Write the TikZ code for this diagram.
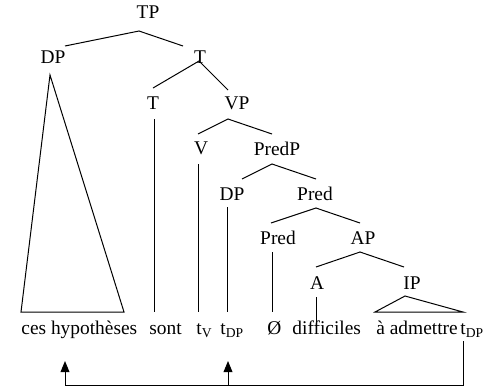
\documentclass[tikz,border=0pt]{standalone}
\usepackage{fontspec}
\setmainfont{Liberation Serif}
\usetikzlibrary{arrows.meta}
\tikzset{
  lab/.style      ={anchor=base, inner sep=0pt, font=\rmfamily\fontsize{9.7}{12}\selectfont},
  word/.style     ={lab, anchor=base west},
  branch/.style   ={line width=0.5pt},
  movearrow/.style={line width=0.5pt, -{Triangle[length=5.5pt,width=4.4pt]}},
}
\newcommand{\trc}[1]{t\textsubscript{#1}}

\begin{document}
\begin{tikzpicture}[x=0.5pt,y=-0.5pt]
  \useasboundingbox (0,0) rectangle (485,387);
  % category labels
  \node[lab] (tp)    at (148,18)  {TP};
  \node[lab] (dp)    at (53,63)   {DP};
  \node[lab] (tbar)  at (200,63)  {T};
  \node[lab] (t)     at (153,109) {T};
  \node[lab] (vp)    at (237,109) {VP};
  \node[lab] (v)     at (201,154) {V};
  \node[lab] (predp) at (277,155) {PredP};
  \node[lab] (dpb)   at (232,200) {DP};
  \node[lab] (predb) at (315,200) {Pred};
  \node[lab] (pred)  at (278,244) {Pred};
  \node[lab] (ap)    at (363,244) {AP};
  \node[lab] (a)     at (317,289) {A};
  \node[lab] (ip)    at (412,289) {IP};
  % terminal string
  \node[word] (w1) at (21,334)  {ces hypothèses};
  \node[word] (w2) at (149,334) {sont};
  \node[word] (w3) at (196,334) {\trc{V}};
  \node[word] (w4) at (220,334) {\trc{DP}};
  \node[word] (w5) at (267,334) {Ø};
  \node[word] (w6) at (292,334) {difficiles};
  \node[word] (w7) at (376,334) {à admettre};
  \node[word] (w8) at (460,334) {\trc{DP}};
  % branch points
  \coordinate (tp-j)    at (139,31);
  \coordinate (tbar-j)  at (199,61);
  \coordinate (vp-j)    at (228,119);
  \coordinate (predp-j) at (272,164);
  \coordinate (predb-j) at (316,208);
  \coordinate (ap-j)    at (360,252);
  % branches
  \draw[branch] (65,46) -- (tp-j) -- (183,46);
  \draw[branch] (153,88) -- (tbar-j) -- (228,90);
  \draw[branch] (198,134) -- (vp-j) -- (272,134);
  \draw[branch] (242,179) -- (predp-j) -- (316,179);
  \draw[branch] (271,223) -- (predb-j) -- (360,223);
  \draw[branch] (316,267) -- (ap-j) -- (404,267);
  % triangles and unary lines
  \draw[branch] (50,75) -- (21,312) -- (124,312) -- cycle;
  \draw[branch] (405,296) -- (375,312) -- (463,312) -- cycle;
  \draw[branch] (154,119) -- (154,312);
  \draw[branch] (198,164) -- (198,312);
  \draw[branch] (227,207) -- (227,312);
  \draw[branch] (272,252) -- (272,312);
  \draw[branch] (316,297) -- (316,322);
  % movement arrows
  \coordinate (src)  at (463,341);
  \coordinate (bend) at (228,385);
  \draw[movearrow] (src) -- (463,385) -| (65,361);
  \draw[movearrow] (bend) -- (228,361);
\end{tikzpicture}
\end{document}
